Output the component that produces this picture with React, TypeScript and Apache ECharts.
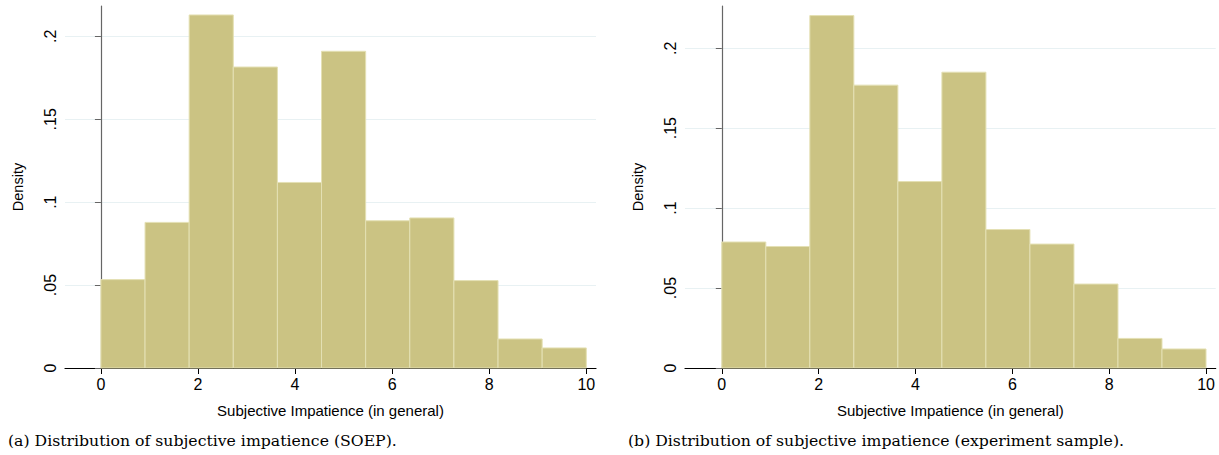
import React, { useEffect, useRef } from "react";
import * as echarts from "echarts";

const binCount = 11;
const xMinValue = 0;
const xMaxValue = 10;
const soepDensity = [0.0533, 0.0878, 0.2129, 0.1815, 0.1119, 0.191, 0.0888, 0.0905, 0.0527, 0.0175, 0.0121];
const experimentDensity = [0.0788, 0.076, 0.2204, 0.1769, 0.1166, 0.185, 0.0866, 0.0775, 0.0525, 0.0185, 0.0119];
const xTicks = [0, 2, 4, 6, 8, 10];
const yTicks = [0, 0.05, 0.1, 0.15, 0.2];
const xTitle = "Subjective Impatience (in general)";
const yTitle = "Density";
const captions = [
  "(a) Distribution of subjective impatience (SOEP).",
  "(b) Distribution of subjective impatience (experiment sample).",
];

const FILL = "#cbc383";
const EDGE = "#e4e0b4";
const SANS = "'Liberation Sans', Arial, sans-serif";
const SERIF = "'DejaVu Serif', serif";

function binData(vals: number[]) {
  const w = (xMaxValue - xMinValue) / binCount;
  return vals.map((v, i) => [xMinValue + i * w, xMinValue + (i + 1) * w, v]);
}

function fmtY(v: number) {
  if (Math.abs(v) < 1e-9) return "0";
  const s = (Math.round(v * 1000) / 1000).toString();
  return s.replace(/^0/, "");
}

export default function App() {
  const ref = useRef<HTMLDivElement>(null);
  useEffect(() => {
    document.body.style.margin = "0";
    if (!ref.current) return;
    const chart = echarts.init(ref.current, undefined, { renderer: "svg" });
    const grids = [
      { left: 65, right: 623, top: 6, bottom: 87 },
      { left: 685, right: 3.3, top: 6, bottom: 87 },
    ];
    const xMins = [-0.74, -0.76];
    const yMaxes = [0.2183, 0.2264];
    const yOffsets = [-5, -5.7];
    const datasets = [soepDensity, experimentDensity];

    const option: any = {
      animation: false,
      backgroundColor: "#ffffff",
      grid: grids,
      xAxis: grids.map((_, i) => ({
        type: "value",
        gridIndex: i,
        min: xMins[i],
        max: 10.2,
        name: xTitle,
        nameLocation: "middle",
        nameGap: 35,
        nameTextStyle: { fontFamily: SANS, fontSize: 15, color: "#000" },
        axisLine: { show: true, lineStyle: { color: "#000", width: 1.2 } },
        axisTick: { show: true, length: 6, customValues: xTicks, lineStyle: { color: "#000" } },
        axisLabel: {
          show: true,
          customValues: xTicks,
          fontFamily: SANS,
          fontSize: 16,
          color: "#000",
          margin: 8,
        },
        splitLine: { show: false },
      })),
      yAxis: grids.map((_, i) => ({
        type: "value",
        gridIndex: i,
        min: 0,
        max: yMaxes[i],
        interval: 0.05,
        offset: yOffsets[i],
        name: yTitle,
        nameLocation: "middle",
        nameGap: 45,
        nameRotate: 90,
        nameTextStyle: { fontFamily: SANS, fontSize: 14.5, color: "#000" },
        axisLine: { show: true, lineStyle: { color: "#666", width: 1.2 } },
        axisTick: { show: true, length: 6, customValues: yTicks, lineStyle: { color: "#666" } },
        axisLabel: {
          show: true,
          customValues: yTicks,
          rotate: 90,
          fontFamily: SANS,
          fontSize: 16,
          color: "#000",
          margin: 12,
          formatter: (v: number) => fmtY(v),
        },
        splitLine: { show: true, lineStyle: { color: "#e8f1f3", width: 1 } },
      })),
      series: datasets.map((vals, i) => ({
        type: "custom",
        xAxisIndex: i,
        yAxisIndex: i,
        data: binData(vals),
        encode: { x: [0, 1], y: 2 },
        renderItem: (params: any, api: any) => {
          const p0 = api.coord([api.value(0), api.value(2)]);
          const p1 = api.coord([api.value(1), 0]);
          return {
            type: "rect",
            shape: { x: p0[0], y: p0[1], width: p1[0] - p0[0], height: p1[1] - p0[1] },
            style: { fill: FILL, stroke: EDGE, lineWidth: 1 },
          };
        },
      })),
      graphic: [
        {
          type: "text",
          left: 8,
          top: 432,
          style: { text: captions[0], font: `15.7px ${SERIF}`, fill: "#000" },
        },
        {
          type: "text",
          left: 628,
          top: 432,
          style: { text: captions[1], font: `15.7px ${SERIF}`, fill: "#000" },
        },
      ],
    };
    chart.setOption(option);
    return () => chart.dispose();
  }, []);
  return <div ref={ref} style={{ width: 1219, height: 455 }} />;
}
